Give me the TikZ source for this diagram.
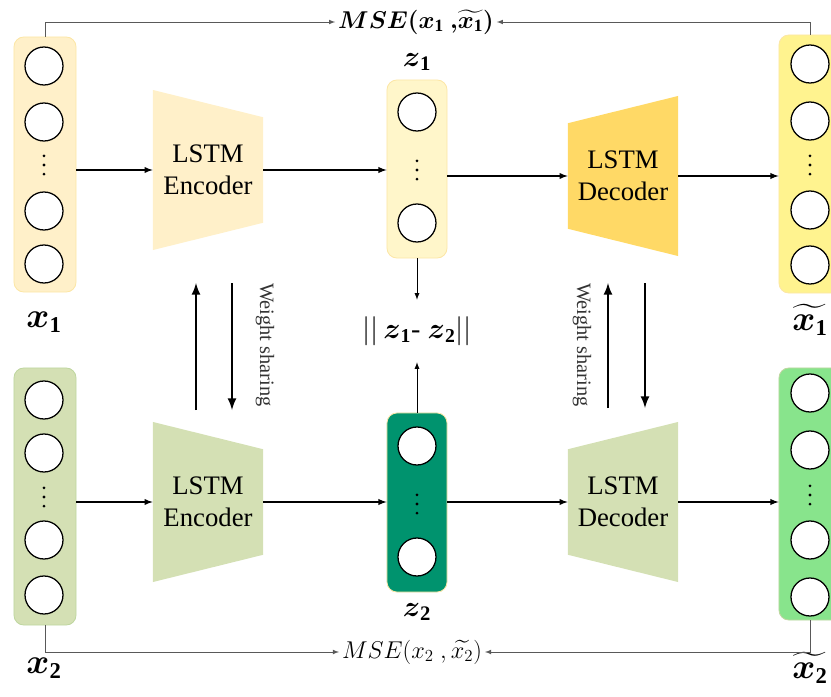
\documentclass[tikz,border=0pt]{standalone}
\usepackage{xcolor}
\usepackage{amsmath}
\usepackage{amssymb}
\usepackage{fontspec}
\setmainfont{Liberation Serif}
\usepackage{tikz}
\usetikzlibrary{arrows, positioning, calc}
\definecolor{inA}{HTML}{FFF0C9}
\definecolor{inB}{HTML}{D4E0B4}
\definecolor{latA}{HTML}{FFF6CA}
\definecolor{latB}{HTML}{00936E}
\definecolor{outA}{HTML}{FFF38F}
\definecolor{outB}{HTML}{88E48C}
\definecolor{decA}{HTML}{FFD966}
\definecolor{rimA}{HTML}{FCE6A6}
\definecolor{rimB}{HTML}{BFD6A0}
\tikzset{%
	neuron/.style={draw, circle, minimum size=9.5mm, inner sep=0mm, fill=white, line width=0.9pt},
	layer/.style={draw, rectangle, rounded corners=7pt, minimum width=1.55cm, line width=0.6pt},
	coder/.style={rectangle, minimum width=2.75cm, minimum height=4cm, align=center,%
		font=\fontsize{19}{23}\selectfont},
	enc/.style={coder, path picture={\fill[#1] (path picture bounding box.north west)
		-- ($(path picture bounding box.north east)!0.17!(path picture bounding box.south east)$)
		-- ($(path picture bounding box.south east)!0.17!(path picture bounding box.north east)$)
		-- (path picture bounding box.south west) -- cycle;}},
	dec/.style={coder, path picture={\fill[#1] (path picture bounding box.north east)
		-- ($(path picture bounding box.north west)!0.17!(path picture bounding box.south west)$)
		-- ($(path picture bounding box.south west)!0.17!(path picture bounding box.north west)$)
		-- (path picture bounding box.south east) -- cycle;}},
	dots/.style={rectangle, inner sep=0pt, minimum width=4pt, minimum height=0.6cm,%
		path picture={\foreach \t in {0.12,0.5,0.88}
			\fill ($(path picture bounding box.north)!\t!(path picture bounding box.south)$) circle (1.1pt);}},
	lbl/.style={font=\fontsize{23}{25}\selectfont},
	flow/.style={->, >=latex, line width=1pt},
	thinflow/.style={->, >=latex, line width=0.6pt},
	mse/.style={->, >=latex, line width=0.5pt, draw=black!65},
	share/.style={->, >=latex, line width=1.8pt},
	wtext/.style={rotate=-90, font=\fontsize{14.5}{15}\selectfont, text=black!80}
}

\begin{document}
\begin{tikzpicture}[x=0.025cm, y=-0.025cm]
	\useasboundingbox (0,0) rectangle (831,697);

	% input / output columns
	\node[layer, fill=inA, draw=rimA, minimum height=6.375cm] (x1box) at (45,164.5) {};
	\node[layer, fill=inB, draw=rimB, minimum height=6.425cm] (x2box) at (45,496.5) {};
	\node[layer, fill=outA, draw=rimA, minimum height=6.45cm] (x1tbox) at (810,164) {};
	\node[layer, fill=outB, draw=rimB, minimum height=6.3cm] (x2tbox) at (810,494) {};
	\node[layer, fill=latA, draw=rimA, minimum width=1.5cm, minimum height=4.45cm] (z1box) at (417,169) {};
	\node[layer, fill=latB, draw=rimA, minimum width=1.5cm, minimum height=4.475cm] (z2box) at (417,502.5) {};

	\foreach \y [count=\i] in {66,122,211,264}
		\node[neuron] (x1n\i) at (44,\y) {};
	\foreach \y [count=\i] in {400,453,540,595}
		\node[neuron] (x2n\i) at (44,\y) {};
	\foreach \y [count=\i] in {64,121,210,265}
		\node[neuron] (x1tn\i) at (810,\y) {};
	\foreach \y [count=\i] in {393,450,540,597}
		\node[neuron] (x2tn\i) at (810,\y) {};
	\node[neuron] (z1n1) at (417,112) {};
	\node[neuron] (z1n2) at (417,223) {};
	\node[neuron] (z2n1) at (417,446) {};
	\node[neuron] (z2n2) at (417,557) {};

	\node[dots] (x1d) at (44,165) {};
	\node[dots] (x2d) at (44,497) {};
	\node[dots] (x1td) at (810,165) {};
	\node[dots] (x2td) at (810,495) {};
	\node[dots] (z1d) at (417,170) {};
	\node[dots] (z2d) at (417,504) {};

	% encoders and decoders
	\node[enc=inA] (enc1) at (208,170) {LSTM\\Encoder};
	\node[enc=inB] (enc2) at (208,502) {LSTM\\Encoder};
	\node[dec=decA] (dec1) at (623,176) {LSTM\\Decoder};
	\node[dec=inB] (dec2) at (623,502) {LSTM\\Decoder};

	% labels
	\node[lbl] (x1l) at (44,322) {$\boldsymbol{x}_{\mathbf{1}}$};
	\node[lbl] (x2l) at (44,668) {$\boldsymbol{x}_{\mathbf{2}}$};
	\node[lbl] (x1tl) at (810,320) {$\widetilde{\boldsymbol{x}_{\mathbf{1}}}$};
	\node[lbl] (x2tl) at (810,668) {$\widetilde{\boldsymbol{x}_{\mathbf{2}}}$};
	\node[lbl, font=\fontsize{21}{23}\selectfont] (z1l) at (417,62) {$\boldsymbol{z}_{\mathbf{1}}$};
	\node[lbl, font=\fontsize{21}{23}\selectfont] (z2l) at (417,612) {$\boldsymbol{z}_{\mathbf{2}}$};
	\node[font=\fontsize{20}{22}\selectfont, minimum height=1.55cm] (diff) at (417,331)
		{$||\,\boldsymbol{z}_{\mathbf{1}}\text{-}\ \boldsymbol{z}_{\mathbf{2}}||$};
	\node[font=\fontsize{17.5}{19}\selectfont, inner sep=2pt] (mse1) at (416,22)
		{$\boldsymbol{MSE}\boldsymbol{(}\boldsymbol{x}_{\mathbf{1}}\ \boldsymbol{,}\widetilde{\boldsymbol{x}_{\mathbf{1}}}\boldsymbol{)}$};
	\node[font=\fontsize{18}{19}\selectfont, inner sep=2pt] (mse2) at (412,652)
		{$MSE(x_{2}\ ,\widetilde{x_{2}})$};
	\node[wtext] (ws1) at (265,345) {Weight sharing};
	\node[wtext] (ws2) at (582,345) {Weight sharing};

	% flow
	\draw[flow] (x1box.east |- enc1) -- (enc1.west);
	\draw[flow] (enc1.east) -- (z1box.west |- enc1);
	\draw[flow] (z1box.east |- dec1) -- (dec1.west);
	\draw[flow] (dec1.east) -- (x1tbox.west |- dec1);
	\draw[flow] (x2box.east |- enc2) -- (enc2.west);
	\draw[flow] (enc2.east) -- (z2box.west |- enc2);
	\draw[flow] (z2box.east |- dec2) -- (dec2.west);
	\draw[flow] (dec2.east) -- (x2tbox.west |- dec2);

	\draw[thinflow] (z1box.south) -- (diff.north);
	\draw[thinflow] (z2box.north) -- (diff.south);

	\draw[mse] (x1box.north) |- (mse1.west);
	\draw[mse] (x1tbox.north) |- (mse1.east);
	\draw[mse] (x2box.south) |- (mse2.west);
	\draw[mse] (x2tbox.south) |- (mse2.east);

	% weight sharing
	\coordinate (wa1) at (196,283);
	\coordinate (wa2) at (196,410);
	\coordinate (wb1) at (232,283);
	\coordinate (wb2) at (232,410);
	\coordinate (wc1) at (608,283);
	\coordinate (wc2) at (608,408);
	\coordinate (wd1) at (645,283);
	\coordinate (wd2) at (645,408);
	\draw[share] (wa2) -- (wa1);
	\draw[share] (wb1) -- (wb2);
	\draw[share] (wc2) -- (wc1);
	\draw[share] (wd1) -- (wd2);
\end{tikzpicture}
\end{document}
